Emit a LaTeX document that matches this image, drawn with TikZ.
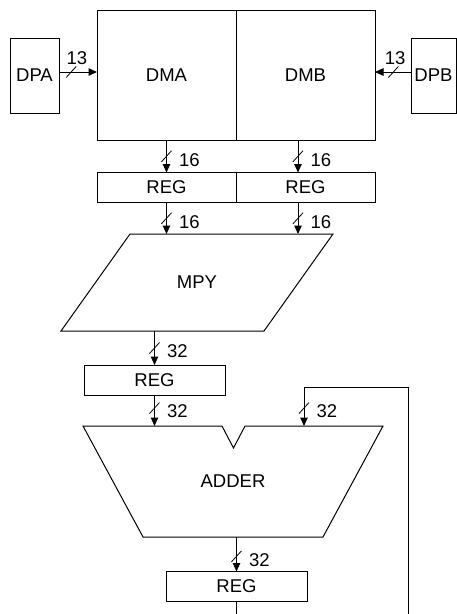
\documentclass[tikz,border=0pt]{standalone}
\usepackage{fontspec}
\setmainfont{Liberation Sans}
\usetikzlibrary{
        shapes.geometric,
        positioning,
        arrows.meta
    }

\begin{document}
\begin{tikzpicture}
[x=1pt, y=-1pt,
baseshape/.style={draw=black, line width=1pt, font=\fontsize{18.5}{22}\selectfont, inner sep=0pt, outer sep=0pt},
mem/.style={baseshape, rectangle, minimum width=139pt, minimum height=130pt},
port/.style={baseshape, rectangle, minimum width=49pt, minimum height=75pt},
reg/.style={baseshape, rectangle, minimum width=141pt, minimum height=30pt},
label/.style={font=\fontsize{18.5}{22}\selectfont, inner sep=0pt},
wire/.style={line width=1pt},
arrow/.style={wire, -{Triangle[length=8.5pt, width=7.5pt]}},
slash/.pic={\draw[-, line width=0.8pt] (-5,5.5) -- (5,-5.5);},
buslab/.style={label, anchor=west, xshift=12pt, yshift=-3.5pt},
toplab/.style={label, anchor=south, yshift=7pt},
]

    \useasboundingbox (0,0) rectangle (457,614);

    % memories and ports
    \node (dma) [mem] at (166.5,75) {DMA};
    \node (dmb) [mem, right=0pt of dma] {DMB};
    \node (dpa) [port] at (34.5,75.5) {DPA};
    \node (dpb) [port, minimum width=45pt] at (433.5,75.5) {DPB};

    % datapath
    \node (rega) [reg, minimum width=139pt] at (166.5,187.5) {REG};
    \node (regb) [reg, minimum width=139pt, right=0pt of rega] {REG};
    \node (mpy) [label] at (197,282.5) {MPY};
    \draw[wire] (130,234) -- (333,234) -- (264,331) -- (61,331) -- cycle;
    \node (regm) [reg] at (154.5,380) {REG};
    \node (adder) [label] at (233,481) {ADDER};
    \draw[wire] (83,426) -- (222,426) -- (233.5,448) -- (245,426) -- (383,426) -- (323,537) -- (143,537) -- cycle;
    \node (rego) [reg] at (236.5,586.5) {REG};

    \coordinate (bbus) at (298,0);
    \coordinate (mpytop) at (0,234);
    \coordinate (mpybot) at (0,331);
    \coordinate (addtop) at (0,426);
    \coordinate (addout) at (0,537);
    \coordinate (fbin) at (304,426);
    \coordinate (fbup) at (408,387);
    \coordinate (fbdown) at (408,616);
    \coordinate (outdown) at (236.5,616);

    \draw[arrow] ([yshift=3.5pt]dpa.east) -- pic[pos=0.32]{slash} node[toplab, pos=0.47]{13} ([yshift=3.5pt]dpa.east -| dma.west);
    \draw[arrow] ([yshift=3.5pt]dpb.west) -- pic[pos=0.49]{slash} node[toplab, pos=0.44]{13} ([yshift=3.5pt]dpb.west -| dmb.east);
    \draw[arrow] (dma) -- pic[pos=0.5]{slash} node[buslab, pos=0.5]{16} (rega);
    \draw[arrow] (dmb.south -| bbus) -- pic[pos=0.5]{slash} node[buslab, pos=0.5]{16} (regb.north -| bbus);
    \draw[arrow] (rega.south) -- pic[pos=0.5]{slash} node[buslab, pos=0.5]{16} (rega.south |- mpytop);
    \draw[arrow] (regb.south -| bbus) -- pic[pos=0.5]{slash} node[buslab, pos=0.5]{16} (mpytop -| bbus);
    \draw[arrow] (mpybot -| regm.north) -- pic[pos=0.5]{slash} node[buslab, pos=0.5]{32} (regm.north);
    \draw[arrow] (regm.south) -- pic[pos=0.42]{slash} node[buslab, pos=0.42]{32} (regm.south |- addtop);
    \draw[arrow] (fbdown) -- (fbup) -- (fbup -| fbin) -- pic[pos=0.54]{slash} node[buslab, pos=0.54]{32} (fbin);
    \draw[arrow] (rego.north |- addout) -- pic[pos=0.56]{slash} node[buslab, pos=0.56]{32} (rego.north);
    \draw[wire] (rego.south) -- (outdown);
\end{tikzpicture}
\end{document}
